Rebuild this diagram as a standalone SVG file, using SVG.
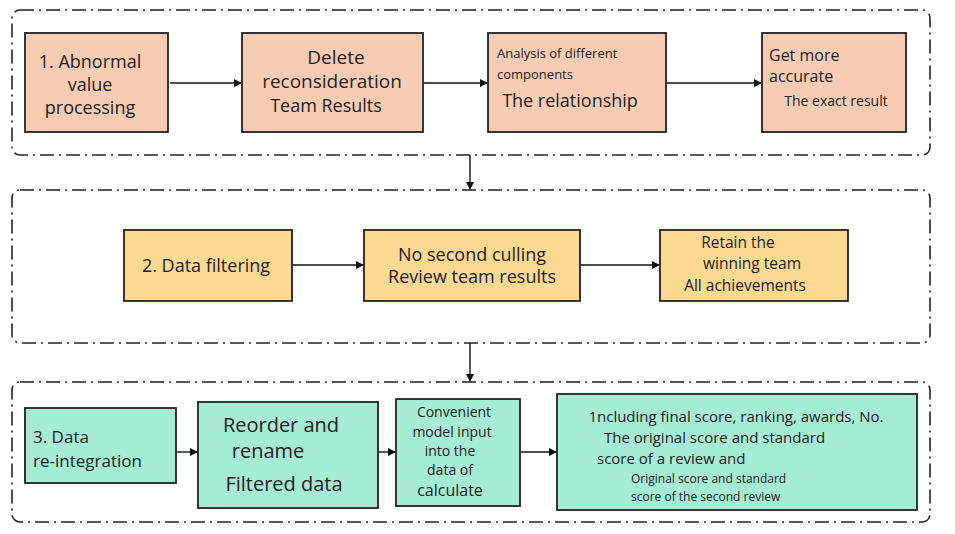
<svg xmlns="http://www.w3.org/2000/svg" width="955" height="534" viewBox="0 0 955 534">
<defs>
<marker id="ah" markerWidth="8" markerHeight="8" refX="7" refY="4" orient="auto" markerUnits="userSpaceOnUse"><path d="M0,0 L8,4 L0,8 z" fill="#111"/></marker>
<style>
.grp{fill:none;stroke:#222;stroke-width:1.6;stroke-dasharray:14 5 2 5}
.n rect{stroke:#222;stroke-width:1.8}
.s rect{fill:#f8ccb2}.y rect{fill:#fcd993}.g rect{fill:#a6ecd5}
text{font-family:"Open Sans","Noto Sans",sans-serif;fill:#222;text-anchor:middle}
text.l{text-anchor:start}
.c line{stroke:#111;stroke-width:1.4;marker-end:url(#ah)}
</style>
</defs>
<rect width="955" height="534" fill="#fff"/>
<rect class="grp" x="12" y="10" width="918" height="145" rx="8"/>
<rect class="grp" x="12" y="190" width="918" height="153" rx="8"/>
<rect class="grp" x="12" y="382" width="918" height="140" rx="8"/>
<g id="n1" class="n s"><rect x="25" y="33" width="143" height="99"/><text font-size="18"><tspan x="90" y="68">1. Abnormal</tspan><tspan x="90" y="91">value</tspan><tspan x="90" y="114">processing</tspan></text></g>
<g id="n2" class="n s"><rect x="242" y="33" width="181" height="99"/><text font-size="19"><tspan x="336" y="64">Delete</tspan><tspan x="332" y="88">reconsideration</tspan></text><text x="326" y="112" font-size="18">Team Results</text></g>
<g id="n3" class="n s"><rect x="488" y="33" width="178" height="99"/><text class="l" font-size="13"><tspan x="497" y="58">Analysis of different</tspan><tspan x="497" y="79">components</tspan></text><text x="570" y="107" font-size="18">The relationship</text></g>
<g id="n4" class="n s"><rect x="762" y="33" width="144" height="99"/><text class="l" font-size="16"><tspan x="769" y="61">Get more</tspan><tspan x="769" y="82">accurate</tspan></text><text x="836" y="106" font-size="14">The exact result</text></g>
<g id="n5" class="n y"><rect x="124" y="230" width="168" height="71"/><text x="206" y="272" font-size="18">2. Data filtering</text></g>
<g id="n6" class="n y"><rect x="364" y="230" width="216" height="71"/><text font-size="18"><tspan x="472" y="261">No second culling</tspan><tspan x="472" y="283">Review team results</tspan></text></g>
<g id="n7" class="n y"><rect x="660" y="230" width="188" height="71"/><text font-size="15.5"><tspan x="738" y="248">Retain the</tspan><tspan x="752" y="269">winning team</tspan><tspan x="745" y="291">All achievements</tspan></text></g>
<g id="n8" class="n g"><rect x="25" y="408" width="151" height="75"/><text class="l" font-size="17"><tspan x="33" y="443">3. Data</tspan><tspan x="33" y="467">re-integration</tspan></text></g>
<g id="n9" class="n g"><rect x="198" y="402" width="180" height="106"/><text font-size="20"><tspan x="281" y="432">Reorder and</tspan><tspan x="268" y="458">rename</tspan><tspan x="284" y="491">Filtered data</tspan></text></g>
<g id="n10" class="n g"><rect x="396" y="399" width="124" height="107"/><text font-size="14"><tspan x="454" y="417">Convenient</tspan><tspan x="452" y="437">model input</tspan><tspan x="450" y="456">into the</tspan><tspan x="450" y="475">data of</tspan></text><text x="450" y="496" font-size="16">calculate</text></g>
<g id="n11" class="n g"><rect x="557" y="394" width="360" height="116"/><text x="736" y="422" font-size="15">1ncluding final score, ranking, awards, No.</text><text class="l" font-size="15"><tspan x="604" y="443">The original score and standard</tspan><tspan x="597" y="464">score of a review and</tspan></text><text class="l" font-size="12"><tspan x="631" y="483">Original score and standard</tspan><tspan x="631" y="501">score of the second review</tspan></text></g>
<g id="connectors" class="c">
<line x1="170" y1="83" x2="241" y2="83"/>
<line x1="424" y1="83" x2="487" y2="83"/>
<line x1="667" y1="83" x2="761" y2="83"/>
<line x1="470" y1="155" x2="470" y2="189"/>
<line x1="293" y1="265" x2="363" y2="265"/>
<line x1="581" y1="265" x2="659" y2="265"/>
<line x1="470" y1="343" x2="470" y2="381"/>
<line x1="177" y1="452" x2="197" y2="452"/>
<line x1="379" y1="452" x2="395" y2="452"/>
<line x1="521" y1="452" x2="556" y2="452"/>
</g>
</svg>
